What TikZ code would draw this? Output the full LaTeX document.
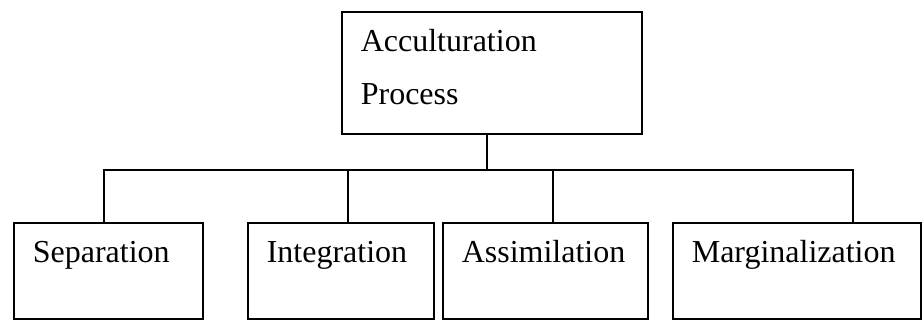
\documentclass[tikz,border=0pt]{standalone}
\usepackage{fontspec}
\setmainfont{Liberation Serif}
\tikzset{
  box/.style={draw=black, line width=1.6pt, anchor=north west, inner xsep=19pt, inner ysep=0pt,
    align=left, text height=40pt, font=\fontsize{32}{53}\selectfont},
  link/.style={draw=black, line width=1.6pt}
}
\begin{document}
\begin{tikzpicture}[x=1pt,y=1pt]
\useasboundingbox (0,0) rectangle (922,-320);
% Top box
\node[box, text width=262pt, text depth=82pt] (proc) at (341,-11) {Acculturation\\Process};
% Bottom boxes
\node[box, text width=151pt, text depth=56pt] (sep) at (13,-222) {Separation};
\node[box, text width=148pt, text depth=56pt] (int) at (247,-222) {Integration};
\node[box, text width=167pt, text depth=56pt] (ass) at (442,-222) {Assimilation};
\node[box, text width=210pt, text depth=56pt] (mar) at (672,-222) {Marginalization};
% Tree lines
\coordinate (hub) at (487,-170);
\draw[link] (proc.south -| hub) -- (hub);
\draw[link] ([xshift=-4.5pt]sep.north) |- (hub);
\draw[link] ([xshift=7pt]int.north) |- (hub);
\draw[link] ([xshift=7.5pt]ass.north) |- (hub);
\draw[link] ([xshift=56pt]mar.north) |- (hub);
\end{tikzpicture}
\end{document}
